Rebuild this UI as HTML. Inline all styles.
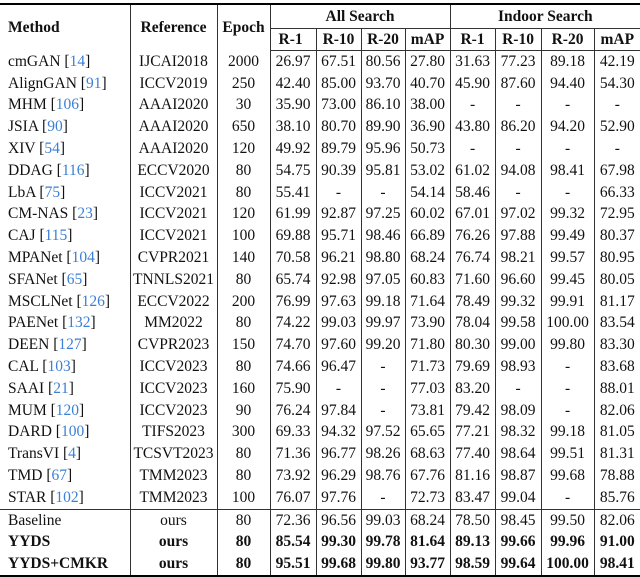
<!DOCTYPE html>
<html><head><meta charset="utf-8"><style>
body{margin:0;width:640px;height:577px;background:#fff;overflow:hidden}
table{position:absolute;left:0;top:3px;border-collapse:collapse;table-layout:fixed;width:640px;font-family:"Liberation Serif",serif;font-size:15.5px;color:#111;border-top:2.5px solid #000;border-bottom:2.5px solid #000}
td,th{padding:0;text-align:center;white-space:nowrap;height:21.8px;line-height:20px;border-left:1px solid #333}
td:first-child,th:first-child{border-left:none;text-align:left;padding-left:8px}
th{font-weight:bold}
tr.h1 th{height:23px}
tr.h2 th{height:21px;border-top:1px solid #333;border-bottom:1px solid #333}
tr.sep td{border-top:1px solid #333}
tr.b td{font-weight:bold}
tr.o td{height:21.6px}
b.r{font-weight:normal;color:#3b7fd6}
</style></head><body>
<table>
<colgroup><col style="width:130px"><col style="width:87px"><col style="width:53px"><col style="width:46px"><col style="width:45px"><col style="width:44px"><col style="width:45px"><col style="width:45px"><col style="width:46px"><col style="width:53px"><col style="width:46px"></colgroup>
<tr class="h1"><th rowspan="2">Method</th><th rowspan="2">Reference</th><th rowspan="2">Epoch</th><th colspan="4">All Search</th><th colspan="4">Indoor Search</th></tr>
<tr class="h2"><th style="border-left:1px solid #333">R-1</th><th>R-10</th><th>R-20</th><th>mAP</th><th>R-1</th><th>R-10</th><th>R-20</th><th>mAP</th></tr>
<tr><td>cmGAN [<b class="r">14</b>]</td><td>IJCAI2018</td><td>2000</td><td>26.97</td><td>67.51</td><td>80.56</td><td>27.80</td><td>31.63</td><td>77.23</td><td>89.18</td><td>42.19</td></tr>
<tr><td>AlignGAN [<b class="r">91</b>]</td><td>ICCV2019</td><td>250</td><td>42.40</td><td>85.00</td><td>93.70</td><td>40.70</td><td>45.90</td><td>87.60</td><td>94.40</td><td>54.30</td></tr>
<tr><td>MHM [<b class="r">106</b>]</td><td>AAAI2020</td><td>30</td><td>35.90</td><td>73.00</td><td>86.10</td><td>38.00</td><td>-</td><td>-</td><td>-</td><td>-</td></tr>
<tr><td>JSIA [<b class="r">90</b>]</td><td>AAAI2020</td><td>650</td><td>38.10</td><td>80.70</td><td>89.90</td><td>36.90</td><td>43.80</td><td>86.20</td><td>94.20</td><td>52.90</td></tr>
<tr><td>XIV [<b class="r">54</b>]</td><td>AAAI2020</td><td>120</td><td>49.92</td><td>89.79</td><td>95.96</td><td>50.73</td><td>-</td><td>-</td><td>-</td><td>-</td></tr>
<tr><td>DDAG [<b class="r">116</b>]</td><td>ECCV2020</td><td>80</td><td>54.75</td><td>90.39</td><td>95.81</td><td>53.02</td><td>61.02</td><td>94.08</td><td>98.41</td><td>67.98</td></tr>
<tr><td>LbA [<b class="r">75</b>]</td><td>ICCV2021</td><td>80</td><td>55.41</td><td>-</td><td>-</td><td>54.14</td><td>58.46</td><td>-</td><td>-</td><td>66.33</td></tr>
<tr><td>CM-NAS [<b class="r">23</b>]</td><td>ICCV2021</td><td>120</td><td>61.99</td><td>92.87</td><td>97.25</td><td>60.02</td><td>67.01</td><td>97.02</td><td>99.32</td><td>72.95</td></tr>
<tr><td>CAJ [<b class="r">115</b>]</td><td>ICCV2021</td><td>100</td><td>69.88</td><td>95.71</td><td>98.46</td><td>66.89</td><td>76.26</td><td>97.88</td><td>99.49</td><td>80.37</td></tr>
<tr><td>MPANet [<b class="r">104</b>]</td><td>CVPR2021</td><td>140</td><td>70.58</td><td>96.21</td><td>98.80</td><td>68.24</td><td>76.74</td><td>98.21</td><td>99.57</td><td>80.95</td></tr>
<tr><td>SFANet [<b class="r">65</b>]</td><td>TNNLS2021</td><td>80</td><td>65.74</td><td>92.98</td><td>97.05</td><td>60.83</td><td>71.60</td><td>96.60</td><td>99.45</td><td>80.05</td></tr>
<tr><td>MSCLNet [<b class="r">126</b>]</td><td>ECCV2022</td><td>200</td><td>76.99</td><td>97.63</td><td>99.18</td><td>71.64</td><td>78.49</td><td>99.32</td><td>99.91</td><td>81.17</td></tr>
<tr><td>PAENet [<b class="r">132</b>]</td><td>MM2022</td><td>80</td><td>74.22</td><td>99.03</td><td>99.97</td><td>73.90</td><td>78.04</td><td>99.58</td><td>100.00</td><td>83.54</td></tr>
<tr><td>DEEN [<b class="r">127</b>]</td><td>CVPR2023</td><td>150</td><td>74.70</td><td>97.60</td><td>99.20</td><td>71.80</td><td>80.30</td><td>99.00</td><td>99.80</td><td>83.30</td></tr>
<tr><td>CAL [<b class="r">103</b>]</td><td>ICCV2023</td><td>80</td><td>74.66</td><td>96.47</td><td>-</td><td>71.73</td><td>79.69</td><td>98.93</td><td>-</td><td>83.68</td></tr>
<tr><td>SAAI [<b class="r">21</b>]</td><td>ICCV2023</td><td>160</td><td>75.90</td><td>-</td><td>-</td><td>77.03</td><td>83.20</td><td>-</td><td>-</td><td>88.01</td></tr>
<tr><td>MUM [<b class="r">120</b>]</td><td>ICCV2023</td><td>90</td><td>76.24</td><td>97.84</td><td>-</td><td>73.81</td><td>79.42</td><td>98.09</td><td>-</td><td>82.06</td></tr>
<tr><td>DARD [<b class="r">100</b>]</td><td>TIFS2023</td><td>300</td><td>69.33</td><td>94.32</td><td>97.52</td><td>65.65</td><td>77.21</td><td>98.32</td><td>99.18</td><td>81.05</td></tr>
<tr><td>TransVI [<b class="r">4</b>]</td><td>TCSVT2023</td><td>80</td><td>71.36</td><td>96.77</td><td>98.26</td><td>68.63</td><td>77.40</td><td>98.64</td><td>99.51</td><td>81.31</td></tr>
<tr><td>TMD [<b class="r">67</b>]</td><td>TMM2023</td><td>80</td><td>73.92</td><td>96.29</td><td>98.76</td><td>67.76</td><td>81.16</td><td>98.87</td><td>99.68</td><td>78.88</td></tr>
<tr><td>STAR [<b class="r">102</b>]</td><td>TMM2023</td><td>100</td><td>76.07</td><td>97.76</td><td>-</td><td>72.73</td><td>83.47</td><td>99.04</td><td>-</td><td>85.76</td></tr>
<tr class="sep o"><td>Baseline</td><td>ours</td><td>80</td><td>72.36</td><td>96.56</td><td>99.03</td><td>68.24</td><td>78.50</td><td>98.45</td><td>99.50</td><td>82.06</td></tr>
<tr class="b o"><td>YYDS</td><td>ours</td><td>80</td><td>85.54</td><td>99.30</td><td>99.78</td><td>81.64</td><td>89.13</td><td>99.66</td><td>99.96</td><td>91.00</td></tr>
<tr class="b o"><td>YYDS+CMKR</td><td>ours</td><td>80</td><td>95.51</td><td>99.68</td><td>99.80</td><td>93.77</td><td>98.59</td><td>99.64</td><td>100.00</td><td>98.41</td></tr>
</table>
</body></html>
